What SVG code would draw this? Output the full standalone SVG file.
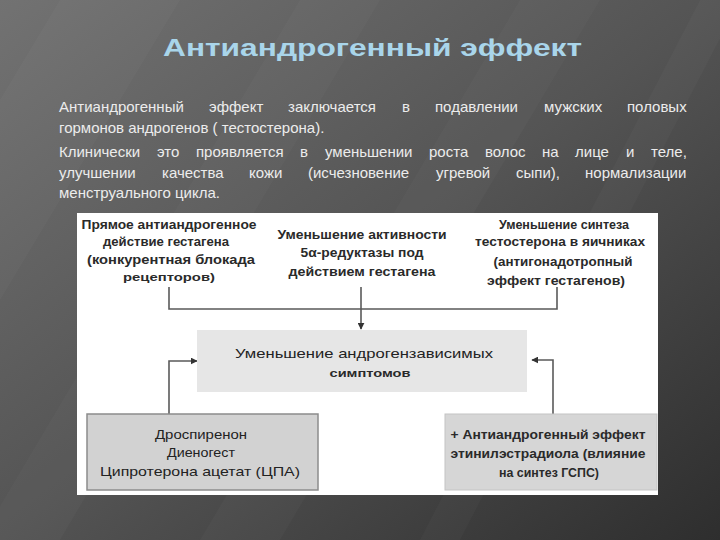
<svg xmlns="http://www.w3.org/2000/svg" width="720" height="540" viewBox="0 0 720 540">
<defs>
<linearGradient id="bg" x1="0" y1="0" x2="1" y2="1">
<stop offset="0" stop-color="#727272"/>
<stop offset="0.5" stop-color="#545454"/>
<stop offset="1" stop-color="#2e2e2e"/>
</linearGradient>
<marker id="ah" viewBox="0 0 10 10" refX="9" refY="5" markerWidth="7" markerHeight="7" markerUnits="userSpaceOnUse" orient="auto">
<path d="M0,0 L10,5 L0,10 z" fill="#333"/>
</marker>
<style>
.para{font-family:"Liberation Sans",Arial,sans-serif;font-size:15px;fill:#ececec}
.title{font-family:"Liberation Sans",Arial,sans-serif;font-size:23px;font-weight:bold;fill:#a9d5ea}
.lb{font-family:"Liberation Sans",Arial,sans-serif;font-size:12px;font-weight:bold;fill:#2a2a2a;text-anchor:middle}
.lr{font-family:"Liberation Sans",Arial,sans-serif;font-size:13px;fill:#222;text-anchor:middle}
.ls{font-family:"Liberation Sans",Arial,sans-serif;font-size:10px;font-weight:bold;fill:#2a2a2a;text-anchor:middle}
.conn{fill:none;stroke:#5a5a5a;stroke-width:1.6}
.stripe{fill:#ffffff;opacity:0.025}
</style>
</defs>
<rect width="720" height="540" fill="url(#bg)"/>
<polygon class="stripe" points="60,0 180,0 0,300 0,100"/>
<polygon class="stripe" points="300,0 380,0 60,540 -20,540"/>
<polygon class="stripe" points="520,0 600,0 280,540 200,540"/>
<polygon class="stripe" points="700,0 740,0 460,540 420,540"/>

<text class="title" x="163" y="56" textLength="419" lengthAdjust="spacingAndGlyphs">Антиандрогенный эффект</text>

<g id="paragraph">
<text class="para" y="112"><tspan x="59">Антиандрогенный</tspan><tspan x="209">эффект</tspan><tspan x="288">заключается</tspan><tspan x="402">в</tspan><tspan x="435">подавлении</tspan><tspan x="544">мужских</tspan><tspan x="627">половых</tspan></text>
<text class="para" x="59" y="133">гормонов андрогенов ( тестостерона).</text>
<text class="para" y="157"><tspan x="59">Клинически</tspan><tspan x="157">это</tspan><tspan x="196">проявляется</tspan><tspan x="300">в</tspan><tspan x="325">уменьшении</tspan><tspan x="429">роста</tspan><tspan x="485">волос</tspan><tspan x="542">на</tspan><tspan x="575">лице</tspan><tspan x="626">и</tspan><tspan x="651">теле,</tspan></text>
<text class="para" y="178"><tspan x="59">улучшении</tspan><tspan x="162">качества</tspan><tspan x="249">кожи</tspan><tspan x="308">(исчезновение</tspan><tspan x="436">угревой</tspan><tspan x="516">сыпи),</tspan><tspan x="585">нормализации</tspan></text>
<text class="para" x="59" y="198">менструального цикла.</text>
</g>

<rect x="77" y="213" width="581" height="282" fill="#ffffff"/>

<g id="connectors">
<polyline class="conn" points="169,287 169,309 557,309 557,287"/>
<line class="conn" x1="361" y1="287" x2="361" y2="329" marker-end="url(#ah)"/>
<polyline class="conn" points="169,414 169,361 197,361" marker-end="url(#ah)"/>
<polyline class="conn" points="553,414 553,360 532,360" marker-end="url(#ah)"/>
</g>

<g id="node-direct">
<text class="lb" x="169" y="229" textLength="175" lengthAdjust="spacingAndGlyphs">Прямое антиандрогенное</text>
<text class="lb" x="166" y="246" textLength="126" lengthAdjust="spacingAndGlyphs">действие гестагена</text>
<text class="lb" x="171" y="264" textLength="168" lengthAdjust="spacingAndGlyphs">(конкурентная блокада</text>
<text class="ls" x="169" y="281" textLength="92" lengthAdjust="spacingAndGlyphs">рецепторов)</text>
</g>

<g id="node-reductase">
<text class="lb" x="362" y="239" textLength="169" lengthAdjust="spacingAndGlyphs">Уменьшение активности</text>
<text class="lb" x="362" y="257" textLength="123" lengthAdjust="spacingAndGlyphs">5α-редуктазы под</text>
<text class="lb" x="362" y="276" textLength="147" lengthAdjust="spacingAndGlyphs">действием гестагена</text>
</g>

<g id="node-synthesis">
<text class="lb" x="564" y="229" textLength="130" lengthAdjust="spacingAndGlyphs">Уменьшение синтеза</text>
<text class="lb" x="560" y="246" textLength="170" lengthAdjust="spacingAndGlyphs">тестостерона в яичниках</text>
<text class="lb" x="563" y="266" textLength="139" lengthAdjust="spacingAndGlyphs">(антигонадотропный</text>
<text class="lb" x="556" y="285" textLength="138" lengthAdjust="spacingAndGlyphs">эффект гестагенов)</text>
</g>

<g id="node-symptoms">
<rect x="197" y="330" width="330" height="62" fill="#e6e6e6"/>
<text class="lr" x="364" y="358" textLength="258" lengthAdjust="spacingAndGlyphs">Уменьшение андрогензависимых</text>
<text class="ls" x="370" y="377" textLength="81" lengthAdjust="spacingAndGlyphs">симптомов</text>
</g>

<g id="node-drugs">
<rect x="87" y="414" width="231" height="76" fill="#d2d2d2" stroke="#8c8c8c" stroke-width="1.5"/>
<text class="lr" x="201" y="439" textLength="92" lengthAdjust="spacingAndGlyphs">Дроспиренон</text>
<text class="lr" x="201" y="457" textLength="68" lengthAdjust="spacingAndGlyphs">Диеногест</text>
<text class="lr" x="200" y="476" textLength="200" lengthAdjust="spacingAndGlyphs">Ципротерона ацетат (ЦПА)</text>
</g>

<g id="node-ee">
<rect x="445" y="414" width="212" height="76" fill="#d6d6d6" stroke="#c4c4c4" stroke-width="1"/>
<text class="lb" x="548" y="439" textLength="195" lengthAdjust="spacingAndGlyphs">+ Антиандрогенный эффект</text>
<text class="lb" x="548" y="458" textLength="195" lengthAdjust="spacingAndGlyphs">этинилэстрадиола (влияние</text>
<text class="lb" x="549" y="477" textLength="100" lengthAdjust="spacingAndGlyphs">на синтез ГСПС)</text>
</g>
</svg>
